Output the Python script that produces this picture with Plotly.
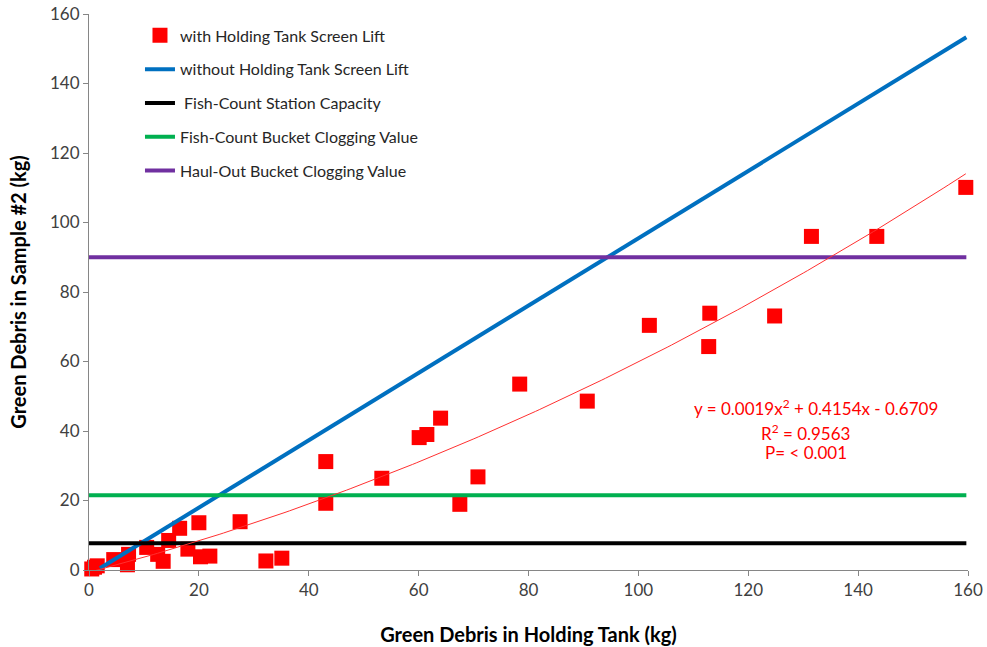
import numpy as np
import plotly.graph_objects as go

# Scatter data: with Holding Tank Screen Lift
x_with = [0.5, 1.0, 1.5, 4.5, 7.0, 7.2, 10.5, 12.5, 13.5, 14.5, 16.5, 18.0, 20.0, 20.3, 22.0,
          27.5, 32.2, 35.1, 43.1, 43.1, 53.3, 60.1, 61.5, 64.0, 67.5, 70.8, 78.4, 90.7,
          102.0, 112.8, 113.0, 124.8, 131.5, 143.4, 159.6]
y_with = [0.3, 0.8, 1.2, 3.0, 1.5, 4.5, 6.5, 4.5, 2.5, 8.5, 12.0, 6.0, 13.6, 3.8, 4.0,
          13.9, 2.6, 3.4, 31.2, 19.2, 26.4, 38.1, 39.0, 43.7, 18.9, 26.8, 53.5, 48.6,
          70.4, 64.3, 73.9, 73.1, 96.0, 96.0, 110.1]

# without Holding Tank Screen Lift (straight line end points)
x_without = [2.0, 159.7]
y_without = [0.5, 153.3]

# Reference levels
x_levels = [0, 159.7]
fish_count_capacity = 7.7
fish_count_bucket = 21.5
haul_out_bucket = 90.0

# Polynomial trendline coefficients (as printed on the chart)
trend_coef = [0.0019, 0.4154, -0.6709]
trend_label = ["y = 0.0019x<sup>2</sup> + 0.4154x - 0.6709", "R<sup>2</sup> = 0.9563", "P= < 0.001"]

x_ticks = [0, 20, 40, 60, 80, 100, 120, 140, 160]
y_ticks = [0, 20, 40, 60, 80, 100, 120, 140, 160]

FONT = "Lato, 'Open Sans', sans-serif"

fig = go.Figure()

fig.add_trace(go.Scatter(
    x=x_with, y=y_with, mode="markers", name="with Holding Tank Screen Lift",
    marker=dict(symbol="square", size=15, color="#FF0000"),
    legendgroup="a", cliponaxis=False,
))
fig.add_trace(go.Scatter(
    x=x_without, y=y_without, mode="lines", name="without Holding Tank Screen Lift",
    line=dict(color="#0070C0", width=4), legendgroup="b",
))
fig.add_trace(go.Scatter(
    x=x_levels, y=[fish_count_capacity] * 2, mode="lines", name=" Fish-Count Station Capacity",
    line=dict(color="#000000", width=4), legendgroup="c",
))
fig.add_trace(go.Scatter(
    x=x_levels, y=[fish_count_bucket] * 2, mode="lines", name="Fish-Count Bucket Clogging Value",
    line=dict(color="#00B050", width=4), legendgroup="d",
))
fig.add_trace(go.Scatter(
    x=x_levels, y=[haul_out_bucket] * 2, mode="lines", name="Haul-Out Bucket Clogging Value",
    line=dict(color="#7030A0", width=4), legendgroup="e",
))

xt = np.linspace(min(x_with), max(x_with), 200)
yt = np.polyval(trend_coef, xt)
fig.add_trace(go.Scatter(
    x=xt, y=yt, mode="lines", showlegend=False,
    line=dict(color="#FF3030", width=1),
))

ann_pos = [(132.3, 46.9), (130.5, 39.7), (130.5, 33.7)]
for txt, (ax, ay) in zip(trend_label, ann_pos):
    fig.add_annotation(x=ax, y=ay, text=txt, showarrow=False,
                       font=dict(family=FONT, size=17, color="#FF0000"),
                       xanchor="center", yanchor="middle")

axis_common = dict(
    showgrid=False, zeroline=False, showline=True, linecolor="#868686", linewidth=1,
    ticks="outside", ticklen=5, tickcolor="#868686", automargin=False,
    tickfont=dict(family=FONT, size=17, color="#404040"),
)

fig.update_layout(
    width=987, height=647,
    margin=dict(l=89, r=19, t=14, b=77),
    paper_bgcolor="white", plot_bgcolor="white",
    font=dict(family=FONT),
    xaxis=dict(range=[0, 160], tickvals=x_ticks, **axis_common,
               title=dict(text="<b>Green Debris in Holding Tank (kg)</b>",
                          font=dict(family=FONT, size=20, color="#000000"), standoff=28)),
    yaxis=dict(range=[0, 160], tickvals=y_ticks, **axis_common,
               title=dict(text="<b>Green Debris in Sample #2 (kg)</b>",
                          font=dict(family=FONT, size=20, color="#000000"), standoff=18)),
    legend=dict(x=0.058, y=0.992, xanchor="left", yanchor="top",
                bgcolor="rgba(0,0,0,0)", tracegroupgap=10,
                traceorder="grouped",
                font=dict(family=FONT, size=16, color="#262626")),
)

fig.write_html("out.html")
